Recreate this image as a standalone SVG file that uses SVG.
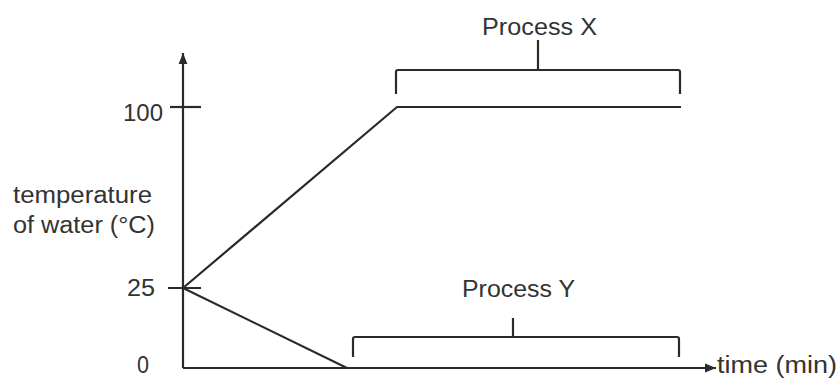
<svg xmlns="http://www.w3.org/2000/svg" width="839" height="378" viewBox="0 0 839 378">
<defs>
<style>
.ln{stroke:#2a2a2a;stroke-width:2.2;fill:none;stroke-linecap:butt;stroke-linejoin:miter}
.t{font-family:"Liberation Sans",Arial,sans-serif;font-size:23px;fill:#333}
</style>
<marker id="ah" viewBox="0 0 10 10" refX="10" refY="5" markerWidth="5" markerHeight="5" orient="auto" markerUnits="strokeWidth">
<path d="M0,1 L10,5 L0,9 Z" fill="#2a2a2a"/>
</marker>
</defs>
<rect width="839" height="378" fill="#fff"/>
<g id="axes">
<line class="ln" x1="183" y1="368" x2="183" y2="53" marker-end="url(#ah)"/>
<line class="ln" x1="183" y1="368" x2="716" y2="368" marker-end="url(#ah)"/>
<line class="ln" x1="170" y1="107" x2="201" y2="107"/>
<line class="ln" x1="168" y1="288" x2="201" y2="288"/>
</g>
<g id="labels">
<text class="t" x="163" y="121" text-anchor="end" textLength="40" lengthAdjust="spacingAndGlyphs">100</text>
<text class="t" x="155" y="296" text-anchor="end" textLength="28" lengthAdjust="spacingAndGlyphs">25</text>
<text class="t" x="137" y="373" textLength="12" lengthAdjust="spacingAndGlyphs">0</text>
<text class="t" x="13" y="203" textLength="139" lengthAdjust="spacingAndGlyphs">temperature</text>
<text class="t" x="13" y="233" textLength="142" lengthAdjust="spacingAndGlyphs">of water (°C)</text>
<text class="t" x="717" y="373" textLength="120" lengthAdjust="spacingAndGlyphs">time (min)</text>
</g>
<g id="connectors">
<polyline class="ln" points="183,288 397,107 681,107"/>
<polyline class="ln" points="183,288 347,368"/>
</g>
<g id="processX">
<text class="t" x="482" y="35" textLength="115" lengthAdjust="spacingAndGlyphs">Process X</text>
<path class="ln" d="M396,94 L396,72 Q396,70 398,70 L678,70 Q680,70 680,72 L680,94 M538,40 L538,70"/>
</g>
<g id="processY">
<text class="t" x="462" y="297" textLength="113" lengthAdjust="spacingAndGlyphs">Process Y</text>
<path class="ln" d="M353,357 L353,339 Q353,337 355,337 L677,337 Q679,337 679,339 L679,357 M513,318 L513,337"/>
</g>
</svg>
